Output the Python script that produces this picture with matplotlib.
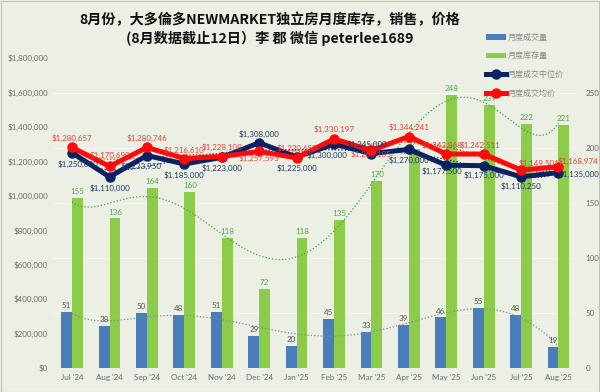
import numpy as np
import matplotlib.pyplot as plt
from matplotlib.patches import Rectangle
from matplotlib.ticker import FuncFormatter, MultipleLocator

plt.rcParams['font.family'] = ['Lato', 'Noto Sans CJK SC', 'DejaVu Sans']

months = ["Jul '24", "Aug '24", "Sep '24", "Oct '24", "Nov '24", "Dec '24", "Jan '25",
          "Feb '25", "Mar '25", "Apr '25", "May '25", "Jun '25", "Jul '25", "Aug '25"]
sales = [51, 38, 50, 48, 51, 29, 20, 45, 33, 39, 46, 55, 48, 19]
inventory = [155, 136, 164, 160, 118, 72, 118, 135, 170, 199, 248, 239, 222, 221]
median_price = [1250000, 1110000, 1233950, 1185000, 1223000, 1308000, 1225000,
                1300000, 1245000, 1270000, 1177500, 1175000, 1110250, 1135000]
avg_price = [1280657, 1170690, 1280746, 1216610, 1228108, 1257593, 1220650,
             1330197, 1263185, 1344241, 1242868, 1242511, 1149501, 1168974]

title = "8月份，大多倫多NEWMARKET独立房月度库存，销售，价格\n(8月数据截止12日）李 郡 微信 peterlee1689"
names = ["月度成交量", "月度库存量", "月度成交中位价", "月度成交均价"]

bg = '#ECEFE3'
c_blue = '#4A7EBB'
c_green = '#8DCB4A'
c_navy = '#0B2262'
c_red = '#FF0A0A'
tick_c = '#6B6B6B'

x = np.arange(len(months))

fig = plt.figure(figsize=(6, 3.92), dpi=100, facecolor=bg)
ax2 = fig.add_axes([0.089, 0.061, 0.873, 0.791])
ax = ax2.twinx()
ax.set_zorder(ax2.get_zorder() + 1)
ax.patch.set_visible(False)
ax2.set_facecolor(bg)

# bars on the count axis (right)
w = 0.29
b1 = ax2.bar(x - 0.145, sales, w, color=c_blue, label=names[0], zorder=2)
b2 = ax2.bar(x + 0.145, inventory, w, color=c_green, label=names[1], zorder=2)
for xi, v in zip(x, sales):
    ax2.annotate(str(v), (xi - 0.145, v), xytext=(0, 2), textcoords='offset points',
                 ha='center', va='bottom', fontsize=5.8, color='#555555', zorder=5)
for xi, v in zip(x, inventory):
    ax2.annotate(str(v), (xi + 0.145, v), xytext=(0, 2), textcoords='offset points',
                 ha='center', va='bottom', fontsize=5.8, color='#4FA94F', zorder=5)

# polynomial trendlines (dotted)
xf = np.linspace(0, len(months) - 1, 200)
for vals, col in [(sales, '#6E8FA0'), (inventory, '#3FA34A')]:
    p = np.polyfit(x, vals, 6)
    ax2.plot(xf, np.polyval(p, xf), ls=':', lw=0.9, color=col, zorder=3)

ax2.set_ylim(0, 281.8)
ax2.set_yticks([0, 50, 100, 150, 200, 250])
ax2.yaxis.tick_right()
ax2.grid(axis='y', color='#F7F8F2', lw=0.8, zorder=0)

# price lines on the dollar axis (left)
for vals, col in [(median_price, c_navy), (avg_price, '#C0392B')]:
    p = np.polyfit(x, vals, 6)
    ax.plot(xf, np.polyval(p, xf), ls=':', lw=0.9, color=col, zorder=2)
l1, = ax.plot(x, median_price, color=c_navy, lw=3.6, marker='o', ms=6.5, label=names[2], zorder=3)
l2, = ax.plot(x, avg_price, color=c_red, lw=3.6, marker='o', ms=6.5, label=names[3], zorder=4)

# label offsets (points) per month
med_off = {0: (4, -8), 1: (0, -8), 2: (-4, -8), 3: (0, -8), 4: (0, -8), 5: (0, 6),
           6: (0, -8), 7: (-5, -8), 8: (-3, 7), 9: (0, -8), 10: (-3, -4), 11: (0, -7),
           12: (0, -7), 13: (15, -1)}
avg_off = {0: (0, 7), 1: (0, 8), 2: (0, 7), 3: (0, 6), 4: (0, 7), 5: (0, -5),
           6: (0, 7), 7: (0, 7), 8: (0, -3), 9: (0, 7), 10: (-3, 6), 11: (-3, 6),
           12: (13, 5), 13: (14, 4)}
for i, v in enumerate(median_price):
    ax.annotate(f"${v:,.0f}", (x[i], v), xytext=med_off[i], textcoords='offset points',
                ha='center', va='center', fontsize=5.8, color='#1F3864', zorder=6)
for i, v in enumerate(avg_price):
    ax.annotate(f"${v:,.0f}", (x[i], v), xytext=avg_off[i], textcoords='offset points',
                ha='center', va='center', fontsize=5.8, color='#E0403A', zorder=6)

ax.set_ylim(0, 1800000)
ax.yaxis.set_major_locator(MultipleLocator(200000))
ax.yaxis.tick_left()
ax.yaxis.set_major_formatter(FuncFormatter(lambda v, _: f"${v:,.0f}"))
ax.set_xlim(-0.5, len(months) - 0.5)
ax2.set_xticks(x)
ax2.set_xticklabels(months)

for a in (ax, ax2):
    for s in a.spines.values():
        s.set_visible(False)
    a.tick_params(length=0, labelsize=5.8, colors=tick_c, pad=4)
ax2.tick_params(axis='y', pad=6)

fig.text(0.45, 0.925, title, ha='center', va='center', fontsize=10.2, fontweight='bold',
         family=['Noto Sans CJK SC', 'DejaVu Sans'], linespacing=1.3, color='#111111')

leg = fig.legend([b1, b2, l1, l2], names, loc='upper left', bbox_to_anchor=(0.805, 0.925),
                 frameon=False, labelcolor='#8A8A8A', handlelength=2.4,
                 labelspacing=1.2, handletextpad=0.3, borderaxespad=0,
                 prop={'family': ['Noto Sans CJK SC'], 'size': 5.8})

fig.patches.append(Rectangle((0.001, 0.001), 0.997, 0.997, transform=fig.transFigure,
                             fill=False, ec='#BFBFBF', lw=0.8))

fig.savefig('out.png', dpi=100, facecolor=bg)
